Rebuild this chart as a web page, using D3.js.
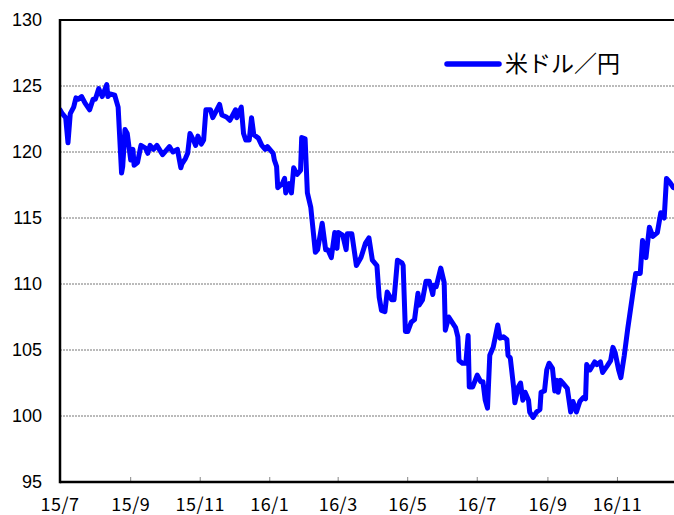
<!DOCTYPE html>
<html><head><meta charset="utf-8">
<script src="https://cdn.jsdelivr.net/npm/d3@7"></script>
<style>
html,body{margin:0;padding:0;background:#fff;}
svg{display:block;}
</style></head>
<body>
<svg id="chart" width="674" height="515"></svg>
<script>
const seriesName = "米ドル／円";
const yTicks = [95, 100, 105, 110, 115, 120, 125, 130];
const xTickDates = ["2015-07-01","2015-09-01","2015-11-01","2016-01-01","2016-03-01","2016-05-01","2016-07-01","2016-09-01","2016-11-01"];
const xTickLabels = ["15/7","15/9","15/11","16/1","16/3","16/5","16/7","16/9","16/11"];
const dates = [
"2015-07-01","2015-07-03","2015-07-06","2015-07-08","2015-07-10","2015-07-13","2015-07-15","2015-07-17","2015-07-20","2015-07-23",
"2015-07-27","2015-07-30","2015-08-01","2015-08-04","2015-08-07","2015-08-11","2015-08-12","2015-08-14","2015-08-18","2015-08-21",
"2015-08-24","2015-08-25","2015-08-27","2015-08-29","2015-09-01","2015-09-03","2015-09-04","2015-09-07","2015-09-10","2015-09-14",
"2015-09-16","2015-09-18","2015-09-21","2015-09-24","2015-09-29","2015-10-05","2015-10-08","2015-10-12","2015-10-15","2015-10-16",
"2015-10-19","2015-10-21","2015-10-23","2015-10-26","2015-10-28","2015-10-30","2015-11-02","2015-11-04","2015-11-06","2015-11-10",
"2015-11-12","2015-11-18","2015-11-20","2015-11-24","2015-11-27","2015-12-02","2015-12-03","2015-12-07","2015-12-09","2015-12-11",
"2015-12-14","2015-12-16","2015-12-18","2015-12-22","2015-12-25","2015-12-28","2015-12-30","2016-01-04","2016-01-05","2016-01-07",
"2016-01-08","2016-01-12","2016-01-14","2016-01-15","2016-01-18","2016-01-20","2016-01-22","2016-01-25","2016-01-28","2016-01-29",
"2016-02-01","2016-02-03","2016-02-06","2016-02-10","2016-02-12","2016-02-16","2016-02-19","2016-02-21","2016-02-24","2016-02-27",
"2016-02-29","2016-03-01","2016-03-05","2016-03-08","2016-03-09","2016-03-13","2016-03-17","2016-03-21","2016-03-25","2016-03-28",
"2016-03-31","2016-04-04","2016-04-06","2016-04-08","2016-04-11","2016-04-13","2016-04-17","2016-04-19","2016-04-22","2016-04-26",
"2016-04-27","2016-04-29","2016-05-01","2016-05-04","2016-05-07","2016-05-10","2016-05-11","2016-05-14","2016-05-17","2016-05-20",
"2016-05-23","2016-05-24","2016-05-26","2016-05-30","2016-06-02","2016-06-03","2016-06-06","2016-06-09","2016-06-12","2016-06-14",
"2016-06-15","2016-06-18","2016-06-21","2016-06-23","2016-06-24","2016-06-27","2016-07-01","2016-07-04","2016-07-06","2016-07-08",
"2016-07-10","2016-07-12","2016-07-15","2016-07-19","2016-07-21","2016-07-24","2016-07-27","2016-07-28","2016-07-30","2016-08-02",
"2016-08-03","2016-08-06","2016-08-08","2016-08-10","2016-08-12","2016-08-15","2016-08-16","2016-08-19","2016-08-22","2016-08-25",
"2016-08-26","2016-08-29","2016-08-31","2016-09-02","2016-09-05","2016-09-07","2016-09-09","2016-09-10","2016-09-12","2016-09-14",
"2016-09-18","2016-09-21","2016-09-23","2016-09-26","2016-09-29","2016-10-02","2016-10-04","2016-10-05","2016-10-08","2016-10-12",
"2016-10-14","2016-10-17","2016-10-19","2016-10-23","2016-10-26","2016-10-28","2016-10-30","2016-11-02","2016-11-04","2016-11-07",
"2016-11-10","2016-11-14","2016-11-17","2016-11-21","2016-11-23","2016-11-26","2016-11-29","2016-12-02","2016-12-06","2016-12-09",
"2016-12-12","2016-12-14","2016-12-17","2016-12-20","2016-12-23"
];
const values = [
123.2,122.9,122.6,120.7,122.9,123.4,124.1,124.0,124.2,123.7,
123.2,124.0,124.0,124.8,124.2,125.1,124.2,124.4,124.3,123.4,
118.4,118.9,121.7,121.4,119.4,120.2,119.0,119.2,120.5,120.3,
119.9,120.5,120.2,120.5,119.8,120.4,120.0,120.2,118.8,119.1,
119.5,119.9,121.4,120.9,120.5,121.2,120.6,120.9,123.2,123.2,
122.6,123.6,122.8,122.65,122.4,123.2,122.6,123.4,121.4,120.9,
120.9,122.6,121.3,121.05,120.5,120.2,120.4,119.9,119.4,118.9,
117.3,117.6,118.0,116.9,117.6,116.9,118.8,118.3,118.6,121.1,
121.0,116.9,115.8,112.4,112.6,114.6,112.6,112.6,112.0,113.9,
112.7,113.9,113.7,112.6,113.8,113.8,111.4,112.0,113.1,113.5,
111.8,111.4,109.0,108.0,107.9,109.4,108.8,108.8,111.8,111.6,
111.4,106.4,106.4,107.1,107.3,109.3,108.4,108.8,110.2,110.2,
109.2,109.9,109.8,111.2,110.1,106.5,107.5,107.1,106.7,106.0,
104.2,104.0,104.0,106.1,102.2,102.2,103.1,102.6,102.6,101.2,
100.6,104.6,105.2,106.9,105.9,106.0,105.8,104.6,104.4,102.1,
101.0,102.2,102.5,101.2,101.8,101.2,100.3,99.9,100.3,100.5,
101.8,101.9,103.5,104.0,103.6,101.9,102.7,101.8,102.7,102.5,
102.1,100.3,101.1,100.3,101.1,101.4,101.3,103.9,103.5,104.1,
103.9,104.1,103.3,103.8,104.2,105.2,104.8,103.5,102.9,104.6,
106.6,109.0,110.8,110.8,113.3,112.0,114.3,113.6,113.9,115.4,
115.0,118.0,117.7,117.3,117.3
];

const parse = d3.timeParse("%Y-%m-%d");
const data = dates.map((d, i) => ({ date: parse(d), value: values[i] }));

const svg = d3.select("#chart");
const mLeft = 60, mTop = 20, mBottom = 482;
const x = d3.scaleTime().domain([parse("2015-07-01"), parse("2017-01-01")]).range([mLeft, 687]);
const y = d3.scaleLinear().domain([95, 130]).range([mBottom, mTop]);
const mRight = x.range()[1];

svg.append("defs").append("clipPath").attr("id", "clip")
  .append("rect").attr("x", mLeft).attr("y", mTop - 10).attr("width", mRight - mLeft).attr("height", mBottom - mTop + 20);

// gridlines
svg.append("g").selectAll("line").data(yTicks.filter(t => t > 95 && t < 130)).join("line")
  .attr("x1", mLeft).attr("x2", mRight)
  .attr("y1", d => y(d)).attr("y2", d => y(d))
  .attr("stroke", "#777").attr("stroke-width", 1).attr("stroke-dasharray", "2,1");

// x ticks (inward)
svg.append("g").selectAll("line").data(xTickDates.slice(1)).join("line")
  .attr("x1", d => x(parse(d))).attr("x2", d => x(parse(d)))
  .attr("y1", mBottom).attr("y2", mBottom - 5)
  .attr("stroke", "#888").attr("stroke-width", 1);

// series line
svg.append("path").datum(data)
  .attr("clip-path", "url(#clip)")
  .attr("fill", "none").attr("stroke", "#0000ff").attr("stroke-width", 5)
  .attr("stroke-linejoin", "round").attr("stroke-linecap", "round")
  .attr("d", d3.line().x(d => x(d.date)).y(d => y(d.value)));

// frame
svg.append("line").attr("x1", mLeft).attr("x2", mRight).attr("y1", mTop).attr("y2", mTop)
  .attr("stroke", "#000").attr("stroke-width", 2);
svg.append("line").attr("x1", mLeft).attr("x2", mRight).attr("y1", mBottom).attr("y2", mBottom)
  .attr("stroke", "#000").attr("stroke-width", 2.5);
svg.append("line").attr("x1", mLeft).attr("x2", mLeft).attr("y1", mTop - 1).attr("y2", mBottom + 1.2)
  .attr("stroke", "#000").attr("stroke-width", 2.5);

// y labels
svg.append("g").selectAll("text").data(yTicks).join("text")
  .attr("x", 42).attr("y", d => y(d)).attr("dy", "0.36em")
  .attr("text-anchor", "end")
  .attr("font-family", "'Liberation Sans', Arial, sans-serif").attr("font-size", 18)
  .attr("fill", "#000")
  .text(d => d);

// x labels
svg.append("g").selectAll("text").data(xTickDates).join("text")
  .attr("x", d => x(parse(d))).attr("y", 511)
  .attr("text-anchor", "middle")
  .attr("font-family", "'Noto Sans CJK JP', sans-serif").attr("font-size", 18)
  .attr("letter-spacing", 0.5)
  .attr("fill", "#000")
  .text((d, i) => xTickLabels[i]);

// legend
svg.append("line").attr("x1", 447).attr("x2", 499).attr("y1", 64).attr("y2", 64)
  .attr("stroke", "#0000ff").attr("stroke-width", 5.5).attr("stroke-linecap", "round");
svg.append("text").attr("x", 505).attr("y", 64).attr("dy", "0.36em")
  .attr("font-family", "'Noto Sans CJK JP', sans-serif").attr("font-size", 23)
  .attr("fill", "#000").text(seriesName);
</script>
</body></html>
